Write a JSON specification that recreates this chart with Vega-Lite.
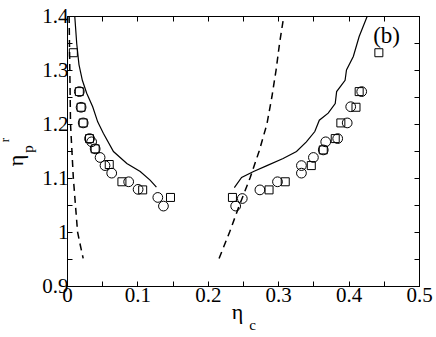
{
  "$schema": "https://vega.github.io/schema/vega-lite/v6.json",
  "width": 352,
  "height": 270,
  "autosize": {"type": "none"},
  "padding": {"left": 67, "top": 16, "right": 17, "bottom": 51},
  "background": "white",
  "config": {
    "view": {"stroke": "black", "strokeWidth": 1},
    "font": "Times New Roman",
    "axis": {
      "grid": false,
      "domainColor": "black",
      "tickColor": "black",
      "labelColor": "black",
      "titleColor": "black",
      "labelFont": "Times New Roman",
      "titleFont": "Times New Roman",
      "labelFontSize": 21,
      "titleFontSize": 22,
      "titleFontWeight": "normal",
      "labelOverlap": false,
      "labelFlush": false,
      "tickSize": -5
    }
  },
  "datasets": {
    "pts": [
      {"x": 0.0175, "y": 1.26, "t": "C"}, {"x": 0.020, "y": 1.231, "t": "C"}, {"x": 0.023, "y": 1.202, "t": "C"},
      {"x": 0.032, "y": 1.173, "t": "C"}, {"x": 0.035, "y": 1.167, "t": "C"}, {"x": 0.040, "y": 1.154, "t": "C"},
      {"x": 0.047, "y": 1.138, "t": "C"}, {"x": 0.054, "y": 1.123, "t": "C"}, {"x": 0.0635, "y": 1.109, "t": "C"},
      {"x": 0.0876, "y": 1.093, "t": "C"}, {"x": 0.101, "y": 1.079, "t": "C"}, {"x": 0.129, "y": 1.064, "t": "C"},
      {"x": 0.137, "y": 1.048, "t": "C"},
      {"x": 0.009, "y": 1.332, "t": "S"}, {"x": 0.0175, "y": 1.26, "t": "S"}, {"x": 0.020, "y": 1.231, "t": "S"},
      {"x": 0.023, "y": 1.202, "t": "S"}, {"x": 0.032, "y": 1.173, "t": "S"}, {"x": 0.040, "y": 1.154, "t": "S"},
      {"x": 0.060, "y": 1.125, "t": "S"}, {"x": 0.078, "y": 1.093, "t": "S"}, {"x": 0.1075, "y": 1.078, "t": "S"},
      {"x": 0.147, "y": 1.064, "t": "S"},
      {"x": 0.2396, "y": 1.048, "t": "C"}, {"x": 0.249, "y": 1.062, "t": "C"}, {"x": 0.274, "y": 1.078, "t": "C"},
      {"x": 0.299, "y": 1.093, "t": "C"}, {"x": 0.333, "y": 1.109, "t": "C"}, {"x": 0.333, "y": 1.123, "t": "C"},
      {"x": 0.350, "y": 1.138, "t": "C"}, {"x": 0.364, "y": 1.152, "t": "C"}, {"x": 0.3675, "y": 1.167, "t": "C"},
      {"x": 0.3845, "y": 1.173, "t": "C"}, {"x": 0.398, "y": 1.202, "t": "C"}, {"x": 0.403, "y": 1.232, "t": "C"},
      {"x": 0.4186, "y": 1.26, "t": "C"},
      {"x": 0.235, "y": 1.064, "t": "S"}, {"x": 0.287, "y": 1.078, "t": "S"}, {"x": 0.310, "y": 1.093, "t": "S"},
      {"x": 0.347, "y": 1.123, "t": "S"}, {"x": 0.364, "y": 1.152, "t": "S"}, {"x": 0.381, "y": 1.173, "t": "S"},
      {"x": 0.389, "y": 1.202, "t": "S"}, {"x": 0.4105, "y": 1.231, "t": "S"}, {"x": 0.415, "y": 1.26, "t": "S"},
      {"x": 0.443, "y": 1.332, "t": "S"}
    ],
    "solid": [
      {"seg": "L", "i": 0, "x": 0.011, "y": 1.4}, {"seg": "L", "i": 1, "x": 0.0138, "y": 1.349},
      {"seg": "L", "i": 2, "x": 0.017, "y": 1.31}, {"seg": "L", "i": 3, "x": 0.0218, "y": 1.281},
      {"seg": "L", "i": 4, "x": 0.028, "y": 1.257}, {"seg": "L", "i": 5, "x": 0.0365, "y": 1.232},
      {"seg": "L", "i": 6, "x": 0.0436, "y": 1.204}, {"seg": "L", "i": 7, "x": 0.0516, "y": 1.183},
      {"seg": "L", "i": 8, "x": 0.066, "y": 1.149}, {"seg": "L", "i": 9, "x": 0.085, "y": 1.127},
      {"seg": "L", "i": 10, "x": 0.104, "y": 1.112}, {"seg": "L", "i": 11, "x": 0.118, "y": 1.096},
      {"seg": "L", "i": 12, "x": 0.127, "y": 1.083},
      {"seg": "R", "i": 0, "x": 0.2377, "y": 1.082}, {"seg": "R", "i": 1, "x": 0.248, "y": 1.101},
      {"seg": "R", "i": 2, "x": 0.265, "y": 1.112}, {"seg": "R", "i": 3, "x": 0.284, "y": 1.123},
      {"seg": "R", "i": 4, "x": 0.307, "y": 1.136}, {"seg": "R", "i": 5, "x": 0.326, "y": 1.149},
      {"seg": "R", "i": 6, "x": 0.340, "y": 1.167}, {"seg": "R", "i": 7, "x": 0.352, "y": 1.186},
      {"seg": "R", "i": 8, "x": 0.3584, "y": 1.207}, {"seg": "R", "i": 9, "x": 0.371, "y": 1.22},
      {"seg": "R", "i": 10, "x": 0.381, "y": 1.238}, {"seg": "R", "i": 11, "x": 0.383, "y": 1.26},
      {"seg": "R", "i": 12, "x": 0.395, "y": 1.281}, {"seg": "R", "i": 13, "x": 0.397, "y": 1.30},
      {"seg": "R", "i": 14, "x": 0.4067, "y": 1.325}, {"seg": "R", "i": 15, "x": 0.415, "y": 1.362},
      {"seg": "R", "i": 16, "x": 0.4266, "y": 1.4}
    ],
    "dashed": [
      {"seg": "L", "i": 0, "x": 0.003, "y": 1.4}, {"seg": "L", "i": 1, "x": 0.004, "y": 1.3},
      {"seg": "L", "i": 2, "x": 0.005, "y": 1.2}, {"seg": "L", "i": 3, "x": 0.007, "y": 1.15},
      {"seg": "L", "i": 4, "x": 0.009, "y": 1.1}, {"seg": "L", "i": 5, "x": 0.012, "y": 1.05},
      {"seg": "L", "i": 6, "x": 0.015, "y": 1.0}, {"seg": "L", "i": 7, "x": 0.019, "y": 0.975},
      {"seg": "L", "i": 8, "x": 0.023, "y": 0.951},
      {"seg": "R", "i": 0, "x": 0.216, "y": 0.951}, {"seg": "R", "i": 1, "x": 0.231, "y": 1.0},
      {"seg": "R", "i": 2, "x": 0.245, "y": 1.05}, {"seg": "R", "i": 3, "x": 0.26, "y": 1.1},
      {"seg": "R", "i": 4, "x": 0.273, "y": 1.15}, {"seg": "R", "i": 5, "x": 0.284, "y": 1.2},
      {"seg": "R", "i": 6, "x": 0.291, "y": 1.25}, {"seg": "R", "i": 7, "x": 0.297, "y": 1.3},
      {"seg": "R", "i": 8, "x": 0.302, "y": 1.35}, {"seg": "R", "i": 9, "x": 0.308, "y": 1.4}
    ]
  },
  "layer": [
    {
      "data": {"name": "solid"},
      "mark": {"type": "line", "color": "black", "strokeWidth": 1.2, "clip": true},
      "encoding": {
        "x": {"field": "x", "type": "quantitative", "scale": {"domain": [0, 0.5], "nice": false, "zero": false},
          "axis": {"orient": "bottom", "title": "η", "values": [0, 0.05, 0.1, 0.15, 0.2, 0.25, 0.3, 0.35, 0.4, 0.45, 0.5],
            "format": "~g", "labelExpr": "round(datum.value*20)%2 ? '' : datum.label", "labelPadding": 3,
            "titleX": 170, "titleY": 32, "titleBaseline": "alphabetic", "titleAnchor": null, "titleAlign": "center"}},
        "y": {"field": "y", "type": "quantitative", "scale": {"domain": [0.9, 1.4], "nice": false, "zero": false},
          "axis": {"orient": "left", "title": "η", "values": [0.9, 0.95, 1, 1.05, 1.1, 1.15, 1.2, 1.25, 1.3, 1.35, 1.4],
            "format": "~g", "labelExpr": "round(datum.value*20)%2 ? '' : datum.label", "labelPadding": 4,
            "titleX": -45, "titleY": 144, "titleAngle": 270, "titleBaseline": "alphabetic", "titleAlign": "center", "titleAnchor": null}},
        "detail": {"field": "seg"},
        "order": {"field": "i"}
      }
    },
    {
      "data": {"name": "dashed"},
      "mark": {"type": "line", "color": "black", "strokeWidth": 1.5, "strokeDash": [7, 5], "clip": true},
      "encoding": {
        "x": {"field": "x", "type": "quantitative",
          "axis": {"orient": "top", "title": null, "labels": false, "values": [0, 0.05, 0.1, 0.15, 0.2, 0.25, 0.3, 0.35, 0.4, 0.45, 0.5]}},
        "y": {"field": "y", "type": "quantitative",
          "axis": {"orient": "right", "title": null, "labels": false, "values": [0.9, 0.95, 1, 1.05, 1.1, 1.15, 1.2, 1.25, 1.3, 1.35, 1.4]}},
        "detail": {"field": "seg"},
        "order": {"field": "i"}
      }
    },
    {
      "data": {"name": "pts"},
      "transform": [{"filter": "datum.t == 'C'"}],
      "mark": {"type": "point", "shape": "circle", "filled": false, "color": "black", "strokeWidth": 1, "size": 95, "opacity": 1},
      "encoding": {
        "x": {"field": "x", "type": "quantitative", "axis": null},
        "y": {"field": "y", "type": "quantitative", "axis": null}
      }
    },
    {
      "data": {"name": "pts"},
      "transform": [{"filter": "datum.t == 'S'"}],
      "mark": {"type": "point", "shape": "square", "filled": false, "color": "black", "strokeWidth": 1, "size": 64, "opacity": 1},
      "encoding": {
        "x": {"field": "x", "type": "quantitative", "axis": null},
        "y": {"field": "y", "type": "quantitative", "axis": null}
      }
    },
    {
      "data": {"values": [
        {"x": 0.454, "y": 1.3494, "s": "(b)"}
      ]},
      "mark": {"type": "text", "font": "Times New Roman", "fontSize": 23, "color": "black", "align": "center", "baseline": "alphabetic"},
      "encoding": {
        "x": {"field": "x", "type": "quantitative", "axis": null},
        "y": {"field": "y", "type": "quantitative", "axis": null},
        "text": {"field": "s"}
      }
    },
    {
      "data": {"values": [
        {"x": 0.2635, "y": 0.8185, "s": "c"}
      ]},
      "mark": {"type": "text", "font": "Times New Roman", "fontSize": 15, "color": "black", "align": "center", "baseline": "alphabetic", "clip": false},
      "encoding": {
        "x": {"field": "x", "type": "quantitative", "axis": null},
        "y": {"field": "y", "type": "quantitative", "axis": null},
        "text": {"field": "s"}
      }
    },
    {
      "data": {"values": [
        {"x": -0.0483, "y": 1.1537, "s": "p", "f": 15},
        {"x": -0.0825, "y": 1.1704, "s": "r", "f": 13}
      ]},
      "mark": {"type": "text", "font": "Times New Roman", "color": "black", "align": "center", "baseline": "alphabetic", "angle": 270, "clip": false},
      "encoding": {
        "x": {"field": "x", "type": "quantitative", "axis": null},
        "y": {"field": "y", "type": "quantitative", "axis": null},
        "text": {"field": "s"},
        "size": {"field": "f", "type": "quantitative", "scale": null, "legend": null}
      }
    }
  ]
}
